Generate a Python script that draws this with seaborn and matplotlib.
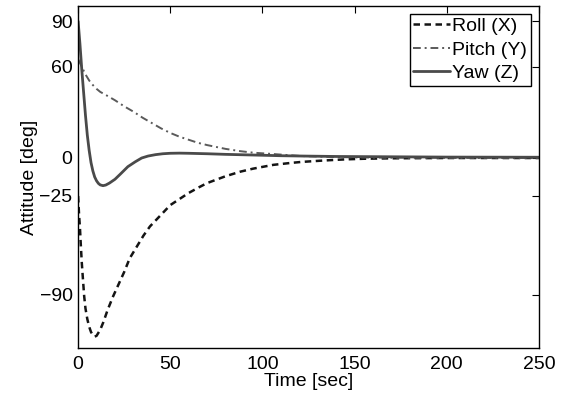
import matplotlib
matplotlib.use("Agg")
import matplotlib.pyplot as plt
import seaborn as sns
import pandas as pd

# ---- data ----
roll_t = [0, 0.5, 1, 1.5, 2, 2.7, 3.3, 4, 5, 6, 7, 8, 9, 10, 11, 12, 13.7, 16, 19, 22, 25,
          28, 32, 35.5, 39, 44.5, 50, 55, 60, 66, 70, 80, 88, 95, 106, 115, 121, 130, 137,
          145, 155, 170, 200, 250]
roll_v = [-25, -37, -46, -58, -69, -81, -91, -99, -106, -111, -114.5, -116.5, -117.5, -117,
          -115, -113, -108, -100, -91, -83, -75, -66, -58, -51, -45, -38, -31, -27, -23, -19,
          -16.5, -12, -9, -7, -4.5, -3.3, -2.6, -1.9, -1.4, -0.9, -0.5, -0.2, 0, 0]

pitch_t = [0, 2, 4, 6, 8, 10, 12, 15, 20, 25, 30, 35, 40, 45, 50, 55, 60, 65, 70, 80, 88,
           95, 106, 115, 121, 135, 150, 170, 200, 250]
pitch_v = [65, 60, 55, 51, 48, 45.5, 43.5, 41.5, 38, 34, 30.5, 26.5, 23, 19.5, 16.5, 14, 12,
           10, 8.5, 6, 4.5, 3.5, 2.6, 1.8, 1.3, 0.8, 0.4, 0.2, 0.1, 0]

yaw_t = [0, 1, 2, 3, 4, 5, 6, 7, 8, 9, 10, 11, 12, 13.5, 15, 17, 20, 23, 27, 31, 34.5, 38,
         42, 46, 50, 55, 60, 70, 80, 97, 110, 121, 140, 170, 200, 250]
yaw_v = [90, 75, 58, 43, 28, 15, 5, -3, -8.5, -12.5, -15, -16.7, -17.7, -18.2, -17.8, -16.5,
         -14, -10.5, -5.7, -2.5, 0, 1.3, 2.2, 2.8, 3.1, 3.2, 3.1, 2.8, 2.4, 1.9, 1.5, 1.3,
         1.0, 0.8, 0.6, 0.5]

series_names = ["Roll (X)", "Pitch (Y)", "Yaw (Z)"]
x_ticks = [0, 50, 100, 150, 200, 250]
y_ticks = [-90, -25, 0, 60, 90]

# ---- styling ----
sns.set_theme(style="white")
plt.rcParams["font.family"] = ["Liberation Sans", "DejaVu Sans"]
plt.rcParams["font.size"] = 14
plt.rcParams["text.color"] = "black"
plt.rcParams["axes.labelcolor"] = "black"
plt.rcParams["xtick.color"] = "black"
plt.rcParams["ytick.color"] = "black"
plt.rcParams["axes.unicode_minus"] = True

fig = plt.figure(figsize=(5.66, 4.0), dpi=100)
ax = fig.add_axes([0.138, 0.13, 0.814, 0.855])

df_roll = pd.DataFrame({"t": roll_t, "v": roll_v})
df_pitch = pd.DataFrame({"t": pitch_t, "v": pitch_v})
df_yaw = pd.DataFrame({"t": yaw_t, "v": yaw_v})

sns.lineplot(data=df_roll, x="t", y="v", ax=ax, color="#141414", linewidth=1.8,
             label=series_names[0], sort=False)
ax.lines[-1].set_dashes((2.6, 1.8))
sns.lineplot(data=df_pitch, x="t", y="v", ax=ax, color="#5a5a5a", linewidth=1.4,
             label=series_names[1], sort=False)
ax.lines[-1].set_dashes((4.0, 2.0, 1.0, 2.0))
sns.lineplot(data=df_yaw, x="t", y="v", ax=ax, color="#4a4a4a", linewidth=2.0,
             label=series_names[2], sort=False)

ax.set_xlim(0, 250)
ax.set_ylim(-125, 100)
ax.set_xticks(x_ticks)
ax.set_yticks(y_ticks)
ax.set_xlabel("Time [sec]", fontsize=14, labelpad=0)
ax.set_ylabel("Attitude [deg]", fontsize=14, labelpad=1)
ax.tick_params(axis="x", pad=6)
ax.tick_params(axis="y", pad=4)
ax.tick_params(axis="both", which="major", direction="in", length=5, width=0.8,
               top=True, right=True, labelsize=14, color="black", labelcolor="black")
for sp in ax.spines.values():
    sp.set_color("black")
    sp.set_linewidth(1.0)

leg = ax.legend(loc="upper right", fontsize=14, frameon=True, fancybox=False,
                edgecolor="black", framealpha=1, handlelength=1.9, handletextpad=0.1,
                labelspacing=0.3, borderpad=0.2, borderaxespad=0.4)
leg.get_frame().set_linewidth(1.0)
for txt in leg.get_texts():
    txt.set_color("black")

fig.savefig("out.png", dpi=100)
